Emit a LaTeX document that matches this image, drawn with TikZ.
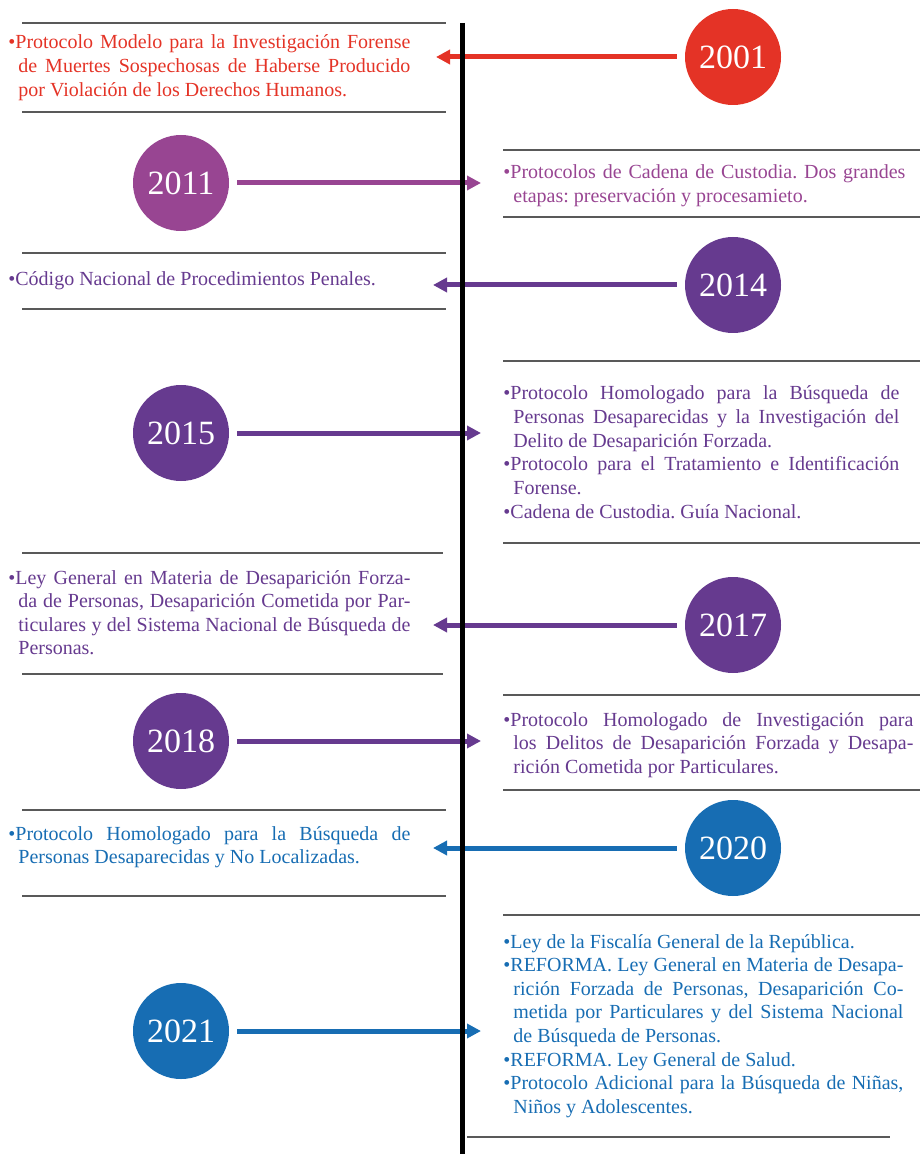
\documentclass[tikz,border=0pt]{standalone}
\usepackage{fontspec}
\setmainfont{Liberation Serif}
\usetikzlibrary{arrows.meta,positioning}
\definecolor{TimeRed}{HTML}{E43326}
\definecolor{TimeMagenta}{HTML}{984592}
\definecolor{TimePurple}{HTML}{663A8F}
\definecolor{TimeBlue}{HTML}{176DB3}
\hyphenpenalty=10000
\tolerance=10000
\frenchspacing
% bullet item with hanging indent; \nxt starts the next one
\newcommand{\itm}{\hangindent=5pt\hangafter=1\rule{0pt}{8pt}\textbullet}
\newcommand{\nxt}{\par\noindent\itm}

\tikzset{
	yearball/.style={circle, fill=#1, minimum size=48pt, inner sep=0pt, text=white,
		font=\fontsize{17}{17}\selectfont},
	entry/.style={text width=#1, align=justify, inner sep=0pt, anchor=base west,
		yshift=-3pt, font=\fontsize{10}{11.8}\selectfont},
	entry/.default=201pt,
	link/.style={line width=2.5pt, -{Triangle[length=7pt,width=7pt]}, shorten <=4pt},
	rule/.style={line width=0.8pt, black!65}
}

\begin{document}
\begin{tikzpicture}[x=0.5pt, y=-0.5pt]
	\useasboundingbox (0,0) rectangle (920,1154);

	% separators
	\foreach \ya/\yb in {23/112, 253/309, 810/896}
		\draw[rule] (22,\ya) -- (446,\ya) (22,\yb) -- (446,\yb);
	\draw[rule] (22,553) -- (443,553) (22,674) -- (443,674);
	\foreach \ya/\yb in {150/217, 361/543, 695/790}
		\draw[rule] (503,\ya) -- (920,\ya) (503,\yb) -- (920,\yb);
	\draw[rule] (503,915) -- (920,915);
	\draw[rule] (467,1137) -- (890,1137);

	% years
	\node[yearball=TimeRed] (y2001) at (733,57) {2001};
	\node[yearball=TimeMagenta] (y2011) at (181,183) {2011};
	\node[yearball=TimePurple] (y2014) at (733,285) {2014};
	\node[yearball=TimePurple] (y2015) at (181,433) {2015};
	\node[yearball=TimePurple] (y2017) at (733,625) {2017};
	\node[yearball=TimePurple] (y2018) at (181,741) {2018};
	\node[yearball=TimeBlue] (y2020) at (733,848) {2020};
	\node[yearball=TimeBlue] (y2021) at (181,1031) {2021};

	% entries
	\node[entry, text=TimeRed] (e2001) at (8,43) {\itm Protocolo Modelo para la Investigación Forense\linebreak
		de Muertes Sospechosas de Haberse Producido\linebreak
		por Violación de los Derechos Humanos.\par};
	\node[entry, text=TimeMagenta] (e2011) at (503,173) {\itm Protocolos de Cadena de Custodia. Dos grandes\linebreak
		etapas: preservación y procesamieto.\par};
	\node[entry, text=TimePurple] (e2014) at (8,280) {\itm Código Nacional de Procedimientos Penales.\par};
	\node[entry=198pt, text=TimePurple] (e2015) at (503,394) {\itm Protocolo Homologado para la Búsqueda de\linebreak
		Personas Desaparecidas y la Investigación del\linebreak
		Delito de Desaparición Forzada.
		\nxt Protocolo para el Tratamiento e Identificación\linebreak
		Forense.
		\nxt Cadena de Custodia. Guía Nacional.\par};
	\node[entry, text=TimePurple] (e2017) at (8,578) {\itm Ley General en Materia de Desaparición Forza-\linebreak
		da de Personas, Desaparición Cometida por Par-\linebreak
		ticulares y del Sistema Nacional de Búsqueda de\linebreak
		Personas.\par};
	\node[entry=205pt, text=TimePurple] (e2018) at (503,720) {\itm Protocolo Homologado de Investigación para\linebreak
		los Delitos de Desaparición Forzada y Desapa-\linebreak
		rición Cometida por Particulares.\par};
	\node[entry, text=TimeBlue] (e2020) at (8,834) {\itm Protocolo Homologado para la Búsqueda de\linebreak
		Personas Desaparecidas y No Localizadas.\par};
	\node[entry=200pt, text=TimeBlue] (e2021) at (503,942) {\itm Ley de la Fiscalía General de la República.
		\nxt REFORMA. Ley General en Materia de Desapa-\linebreak
		rición Forzada de Personas, Desaparición Co-\linebreak
		metida por Particulares y del Sistema Nacional\linebreak
		de Búsqueda de Personas.
		\nxt REFORMA. Ley General de Salud.
		\nxt Protocolo Adicional para la Búsqueda de Niñas,\linebreak
		Niños y Adolescentes.\par};

	% arrow tips
	\coordinate (t2001) at (436,57);
	\coordinate (t2011) at (481,183);
	\coordinate (t2014) at (433,285);
	\coordinate (t2015) at (481,433);
	\coordinate (t2017) at (433,625);
	\coordinate (t2018) at (481,741);
	\coordinate (t2020) at (433,848);
	\coordinate (t2021) at (481,1031);

	\draw[link, TimeRed] (y2001) -- (t2001);
	\draw[link, TimeMagenta] (y2011) -- (t2011);
	\draw[link, TimePurple] (y2014) -- (t2014);
	\draw[link, TimePurple] (y2015) -- (t2015);
	\draw[link, TimePurple] (y2017) -- (t2017);
	\draw[link, TimePurple] (y2018) -- (t2018);
	\draw[link, TimeBlue] (y2020) -- (t2020);
	\draw[link, TimeBlue] (y2021) -- (t2021);

	% timeline
	\draw[line width=2.5pt] (462,23) -- (462,1154);
\end{tikzpicture}
\end{document}
